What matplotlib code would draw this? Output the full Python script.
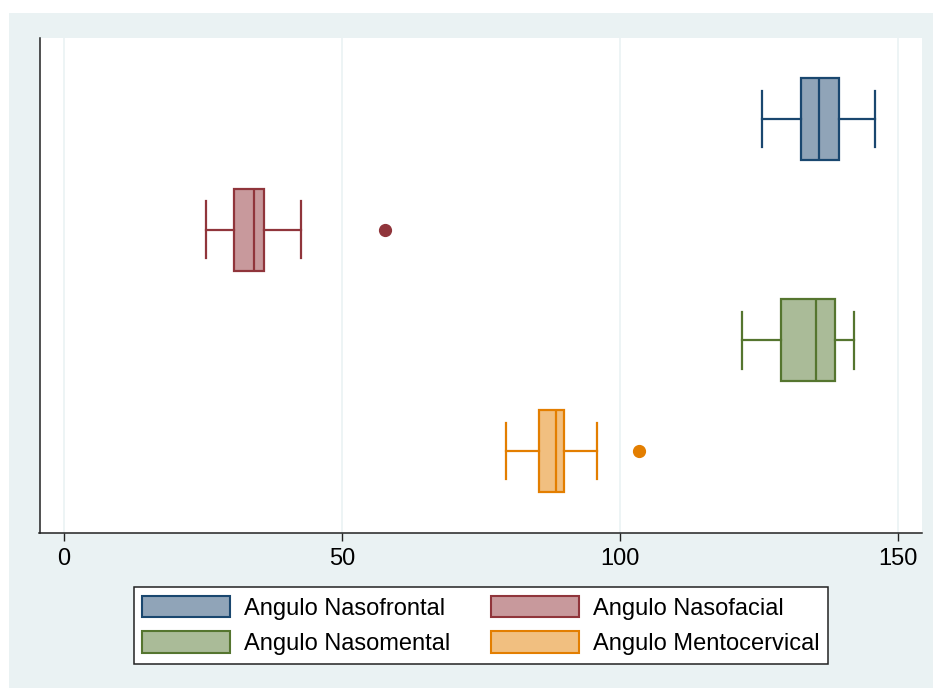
import matplotlib.pyplot as plt
from matplotlib.patches import Patch, Rectangle

plt.rcParams['font.family'] = ['Liberation Sans', 'DejaVu Sans']

labels = ["Angulo Nasofrontal", "Angulo Nasofacial", "Angulo Nasomental", "Angulo Mentocervical"]
whislo = [125.5, 25.5, 121.9, 79.5]
q1 = [132.6, 30.6, 129.0, 85.4]
med = [135.8, 34.2, 135.3, 88.5]
q3 = [139.4, 36.0, 138.7, 89.9]
whishi = [145.9, 42.6, 142.1, 95.9]
outliers = [[], [57.7], [], [103.4]]
xticks = [0, 50, 100, 150]

edges = ["#1a476f", "#90353b", "#55752f", "#e37e00"]
fills = ["#90a4b8", "#c8999c", "#aabb98", "#f1bf80"]
bg = "#eaf2f3"

fig = plt.figure(figsize=(9.33, 6.88), dpi=100)
fig.patches.append(Rectangle((9/933, 0), 1, 1 - 13/688, transform=fig.transFigure,
                             facecolor=bg, edgecolor='none', zorder=-10))
ax = fig.add_axes([39.5/933, 1 - 533/688, (922 - 39.5)/933, (533 - 38)/688])

lw = 1.6
for i in range(len(labels)):
    st = [dict(whislo=whislo[i], q1=q1[i], med=med[i], q3=q3[i],
               whishi=whishi[i], fliers=outliers[i], label=labels[i])]
    c = edges[i]
    ax.bxp(st, positions=[i + 1], widths=0.74, capwidths=0.51,
           orientation='horizontal', patch_artist=True,
           boxprops=dict(facecolor=fills[i], edgecolor=c, linewidth=lw),
           medianprops=dict(color=c, linewidth=lw),
           whiskerprops=dict(color=c, linewidth=lw),
           capprops=dict(color=c, linewidth=lw),
           flierprops=dict(marker='o', markerfacecolor=c, markeredgecolor=c, markersize=8.5))

ax.set_xlim(-4.41, 154.3)
ax.set_ylim(4.74, 0.268)
ax.set_xticks(xticks)
ax.set_xticklabels([str(t) for t in xticks])
ax.set_yticks([])
ax.grid(axis='x', color=bg, linewidth=1.2)
ax.set_axisbelow(True)
for s in ['top', 'right']:
    ax.spines[s].set_visible(False)
for s in ['left', 'bottom']:
    ax.spines[s].set_color('#222222')
    ax.spines[s].set_linewidth(1.1)
ax.tick_params(axis='x', length=6, width=1, color='#222222', labelsize=17, pad=5)

# row-wise legend order like the original
order = [0, 2, 1, 3]
handles = [Patch(facecolor=fills[i], edgecolor=edges[i], linewidth=1.5, label=labels[i])
           for i in order]
leg = fig.legend(handles=handles, ncol=2, loc='center',
                 bbox_to_anchor=(481/933, 1 - 625.5/688), fontsize=17,
                 handlelength=3.7, handleheight=1.05, handletextpad=0.6,
                 columnspacing=1.75, labelspacing=0.5, borderpad=0.35,
                 fancybox=False, framealpha=1, edgecolor='#222222')
leg.get_frame().set_linewidth(1.1)

fig.savefig("out.png", dpi=100)
